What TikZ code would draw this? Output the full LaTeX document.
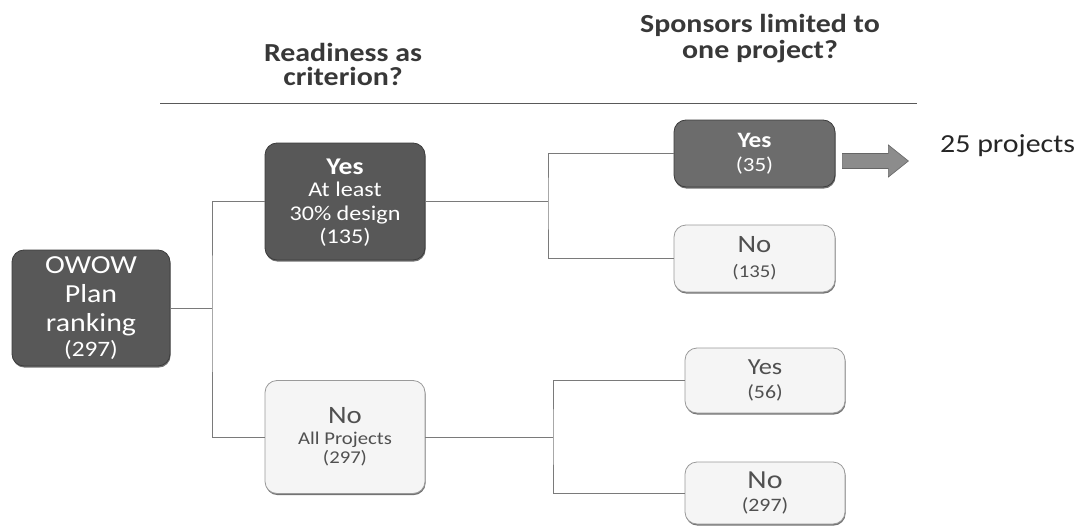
\documentclass[tikz,border=0pt]{standalone}
\usepackage{fontspec}
\setmainfont{Carlito}[FakeStretch=1.15]
\usetikzlibrary{shadows,calc}
\definecolor{boxdark}{HTML}{585858}
\definecolor{boxmid}{HTML}{6C6C6C}
\definecolor{boxdarkline}{HTML}{3C3C3C}
\definecolor{boxlight}{HTML}{F5F5F5}
\definecolor{boxlightline}{HTML}{9A9A9A}
\definecolor{textgray}{HTML}{505050}
\definecolor{headgray}{HTML}{383838}
\definecolor{conngray}{HTML}{7A7A7A}
\definecolor{arrowgray}{HTML}{8C8C8C}
\newcommand\fsz[2]{\fontsize{#1}{#2}\selectfont}
\begin{document}
\begin{tikzpicture}[x=1pt,y=-1pt,
  box/.style={rounded corners=12pt, align=center, inner sep=0pt, line width=0.8pt},
  darkbox/.style={box, fill=boxdark, draw=boxdarkline, text=white,
     drop shadow={shadow xshift=0.6pt, shadow yshift=-1.6pt, fill=black, opacity=0.55}},
  midbox/.style={darkbox, fill=boxmid},
  lightbox/.style={box, fill=boxlight, draw=boxlightline, text=textgray,
     drop shadow={shadow xshift=0.6pt, shadow yshift=-1.6pt, fill=black, opacity=0.55}},
  conn/.style={draw=conngray, line width=0.8pt},
  header/.style={align=center, inner sep=0pt, text=headgray, font=\fsz{26}{24}\bfseries},
  rulel/.style={draw=black!65, line width=0.9pt},
  arrowshape/.style={fill=arrowgray, draw=black!60, line width=0.6pt}]
\useasboundingbox (0,0) rectangle (1082,527);

% headers and rule
\node[header, anchor=base] (h1) at (343,85) {Readiness as\\criterion?};
\node[header, font=\fsz{26}{26}\bfseries, anchor=base] (h2) at (760,59) {Sponsors limited to\\one project?};
\coordinate (l1) at (160,103);
\coordinate (l2) at (917,103);
\draw[rulel] (l1) -- (l2);

% boxes
\node[darkbox, minimum width=158pt, minimum height=116pt, font=\fsz{26}{29}] (owow) at (91,308)
  {OWOW\\Plan\\ranking\\[-4pt]{\fsz{22}{25}(297)}};
\node[darkbox, minimum width=160pt, minimum height=117pt, font=\fsz{21}{24}, text depth=0pt] (yes1) at (345,201.5)
  {\raisebox{-3pt}{\fsz{24}{25}\bfseries Yes}\\[1pt]At least\\30\% design\\[-1pt](135)};
\node[lightbox, minimum width=160pt, minimum height=113pt, font=\fsz{18}{22}] (no1) at (345,437)
  {{\fsz{25}{26}No}\\[-1pt]All Projects\\[-3pt](297)};
\node[midbox, minimum width=161pt, minimum height=67pt, font=\fsz{20}{24}] (yes2) at (754.5,153.5)
  {{\fsz{22}{24}\bfseries Yes}\\(35)};
\node[lightbox, minimum width=161pt, minimum height=67pt, font=\fsz{18}{25}] (no2) at (754.5,258.5)
  {{\fsz{25}{26}No}\\(135)};
\node[lightbox, minimum width=160pt, minimum height=65pt, font=\fsz{19}{24}] (yes3) at (765,380.5)
  {{\fsz{23}{24}Yes}\\(56)};
\node[lightbox, minimum width=160pt, minimum height=62pt, font=\fsz{19}{23}] (no3) at (765,493)
  {{\fsz{26}{26}No}\\(297)};

% connectors
\coordinate (j1) at (212,308);
\coordinate (j2) at (548,201.5);
\coordinate (j3) at (553,437);
\draw[conn] (owow.east) -- (j1);
\draw[conn] (yes1.west) -| (j1) |- (no1.west);
\draw[conn] (yes1.east) -- (j2);
\draw[conn] (yes2.west) -| (j2) |- (no2.west);
\draw[conn] (no1.east) -- (j3);
\draw[conn] (yes3.west) -| (j3) |- (no3.west);

% result arrow
\coordinate (ar) at ($(yes2.east)+(7,7.5)$);
\draw[arrowshape] (ar) ++(0,-7.5) -- ++(46,0) -- ++(0,-8.5) -- ++(20,16) -- ++(-20,16) -- ++(0,-8.5) -- ++(-46,0) -- cycle;
\node[anchor=base west, inner sep=0pt, font=\fsz{26}{30}, text=black!85] (res) at (940,152) {25 projects};
\end{tikzpicture}
\end{document}
